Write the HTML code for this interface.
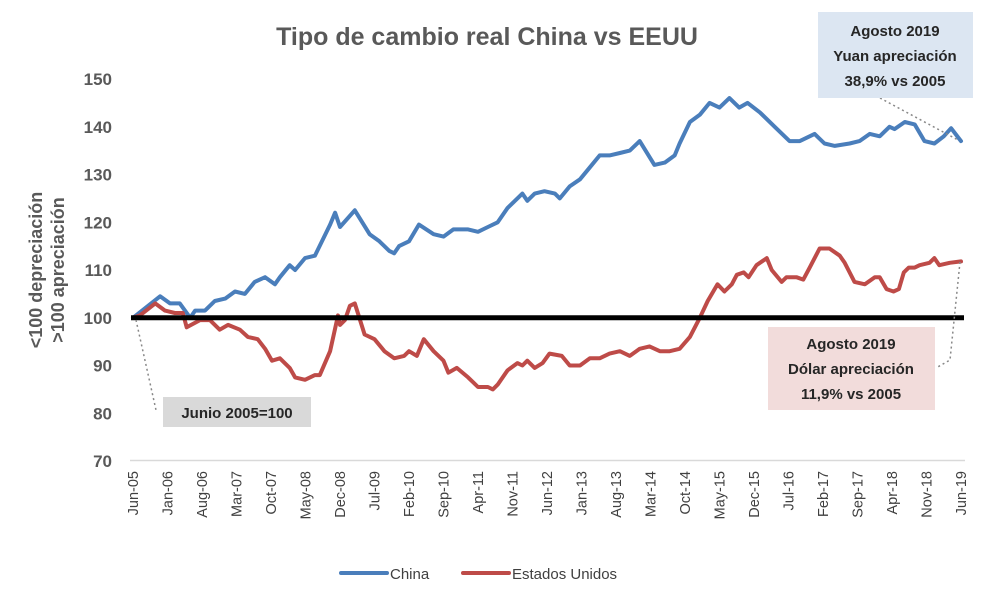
<!DOCTYPE html>
<html><head><meta charset="utf-8"><style>
body{margin:0;background:#fff;}
svg{display:block;font-family:"Liberation Sans",sans-serif;}
</style></head><body>
<svg id="chart" width="982" height="592">
<text x="487" y="45" text-anchor="middle" font-size="25" font-weight="bold" fill="#595959">Tipo de cambio real China vs EEUU</text>
<g id="yticks"></g>
<g id="xticks"></g>
<line x1="130" y1="460.5" x2="965" y2="460.5" stroke="#d9d9d9" stroke-width="1.5"/>
<g transform="translate(42,270) rotate(-90)">
<text x="0" y="0" text-anchor="middle" font-size="18" font-weight="bold" fill="#595959">&lt;100 depreciación</text>
<text x="0" y="22" text-anchor="middle" font-size="18" font-weight="bold" fill="#595959">&gt;100 apreciación</text>
</g>
<g id="series"></g>
<line id="baseline" stroke="#000" stroke-width="5"/>
<line x1="136" y1="320" x2="156" y2="410" stroke="#888" stroke-width="1.5" stroke-dasharray="2,3"/>
<rect x="163" y="397" width="148" height="30" fill="#d9d9d9"/>
<text x="237" y="418" text-anchor="middle" font-size="15" font-weight="bold" fill="#262626">Junio 2005=100</text>
<line x1="880" y1="98" x2="958" y2="140" stroke="#888" stroke-width="1.5" stroke-dasharray="2,3"/>
<rect x="818" y="12" width="155" height="86" fill="#dce6f2"/>
<g font-size="15" font-weight="bold" fill="#262626" text-anchor="middle">
<text x="895" y="36">Agosto 2019</text><text x="895" y="61">Yuan apreciación</text><text x="895" y="86">38,9% vs 2005</text></g>
<polyline points="960,262 950,360 936,368" fill="none" stroke="#888" stroke-width="1.5" stroke-dasharray="2,3"/>
<rect x="768" y="327" width="167" height="83" fill="#f2dcdb"/>
<g font-size="15" font-weight="bold" fill="#262626" text-anchor="middle">
<text x="851" y="349">Agosto 2019</text><text x="851" y="374">Dólar apreciación</text><text x="851" y="399">11,9% vs 2005</text></g>
<line x1="341" y1="573" x2="387" y2="573" stroke="#4a7ebb" stroke-width="4" stroke-linecap="round"/>
<text x="390" y="579" font-size="15" fill="#404040">China</text>
<line x1="463" y1="573" x2="509" y2="573" stroke="#be4b48" stroke-width="4" stroke-linecap="round"/>
<text x="512" y="579" font-size="15" fill="#404040">Estados Unidos</text>
</svg>
<script>
const yTicks=[70,80,90,100,110,120,130,140,150];
const xLabels=["Jun-05","Jan-06","Aug-06","Mar-07","Oct-07","May-08","Dec-08","Jul-09","Feb-10","Sep-10","Apr-11","Nov-11","Jun-12","Jan-13","Aug-13","Mar-14","Oct-14","May-15","Dec-15","Jul-16","Feb-17","Sep-17","Apr-18","Nov-18","Jun-19"];
const chinaMonths=[0,5.5,7.5,9.5,11.6,12.6,14.6,16.6,18.7,20.7,22.7,24.7,26.8,28.8,29.8,31.8,32.9,34.9,36.9,40,41,42,45,48,50,52,53,54,56,58,61,63,65,68,70,72,74,76,78,79,80,81.5,83.5,85.6,86.6,88.6,90.7,92.7,94.7,96.7,98.8,100.8,102.8,105.8,107.9,109.9,110.9,113,115,117,119,121,123,124.7,127.2,130.2,133.2,135.3,138.3,140.3,142.4,145.4,147.4,149.5,151.5,153.5,154.5,156.6,158.6,160.6,162.6,164.5,166,168];
const chinaValues=[100,104.5,103,103,100,101.5,101.5,103.5,104,105.5,105,107.5,108.5,107,108.5,111,110,112.5,113,119.5,122,119,122.5,117.5,116,114,113.5,115,116,119.5,117.5,117,118.5,118.5,118,119,120,123,125,126,124.5,126,126.5,126,125,127.5,129,131.5,134,134,134.5,135,137,132,132.5,134,136.5,141,142.5,145,144,146,144,145,143,140,137,137,138.5,136.5,136,136.5,137,138.5,138,140,139.5,141,140.5,137,136.5,138,139.7,137];
const usaMonths=[0,1.4,4.5,6.5,8.5,10.1,10.9,13.6,15.6,17.6,19.3,21.7,23.3,25.3,26.8,28.2,29.8,31.8,32.9,34.9,36.9,37.9,40,41.6,42,43,44,45,47,49,51,53,55,56,57.6,59,61,63,64,65.7,68,70,72,73,74,76,78,79,80,81.5,83.1,84.5,87,88.6,90.7,92.7,94.7,96.7,98.8,100.8,102.8,104.8,106.9,108.9,110.9,113,115,116.6,118.6,120,121.5,122.5,123.9,124.9,126.5,128.6,129.6,131.6,132.6,134.6,136,137.3,139.3,141.3,143.4,144.4,145.4,146.4,148.5,150.5,151.5,152.9,154.3,155.4,156.4,157.4,158.6,159.6,161.6,162.6,163.6,165.7,168];
const usaValues=[100,100.5,103,101.5,101,101,98,99.5,99.5,97.5,98.5,97.5,96,95.5,93.5,91,91.5,89.5,87.5,87,88,88,93,100.5,98.5,99.5,102.5,103,96.5,95.5,93,91.5,92,93,92,95.5,93,91,88.5,89.5,87.5,85.5,85.5,85,86,89,90.5,90,91,89.5,90.5,92.5,92,90,90,91.5,91.5,92.5,93,92,93.5,94,93,93,93.5,96,100,103.5,107,105.5,107,109,109.5,108.5,111,112.5,110,107.5,108.5,108.5,108,110.5,114.5,114.5,113,111.5,109.5,107.5,107,108.5,108.5,106,105.5,106,109.5,110.5,110.5,111,111.5,112.5,111,111.5,111.8];

const NS="http://www.w3.org/2000/svg";
const x0=133,x1=961,y0=461,y1=79;
const xs=m=>x0+m*(x1-x0)/168;
const ys=v=>y0-(v-70)*(y0-y1)/80;
const yt=document.getElementById('yticks');
yTicks.forEach(v=>{const t=document.createElementNS(NS,'text');
t.setAttribute('x',112);t.setAttribute('y',ys(v)+6);t.setAttribute('text-anchor','end');
t.setAttribute('font-size','17');t.setAttribute('font-weight','bold');t.setAttribute('fill','#595959');
t.textContent=v;


yt.appendChild(t);});
const xt=document.getElementById('xticks');
xLabels.forEach((l,i)=>{const t=document.createElementNS(NS,'text');
const x=xs(i*7)+5;
t.setAttribute('transform','translate('+x+',471) rotate(-90)');
t.setAttribute('text-anchor','end');t.setAttribute('font-size','14.5');t.setAttribute('fill','#404040');
t.textContent=l;


xt.appendChild(t);});
const bl=document.getElementById('baseline');
bl.setAttribute('x1',xs(0)-2);bl.setAttribute('x2',xs(168)+3);bl.setAttribute('y1',ys(100));bl.setAttribute('y2',ys(100));
const sg=document.getElementById('series');
function line(ms,vs,color,name){const p=document.createElementNS(NS,'polyline');
p.setAttribute('points',ms.map((m,i)=>xs(m).toFixed(1)+','+ys(vs[i]).toFixed(1)).join(' '));
p.setAttribute('fill','none');p.setAttribute('stroke',color);p.setAttribute('stroke-width','4');
p.setAttribute('stroke-linejoin','round');p.setAttribute('stroke-linecap','round');


sg.appendChild(p);}
line(chinaMonths,chinaValues,'#4a7ebb','china-line');
line(usaMonths,usaValues,'#be4b48','usa-line');
</script>
</body></html>
